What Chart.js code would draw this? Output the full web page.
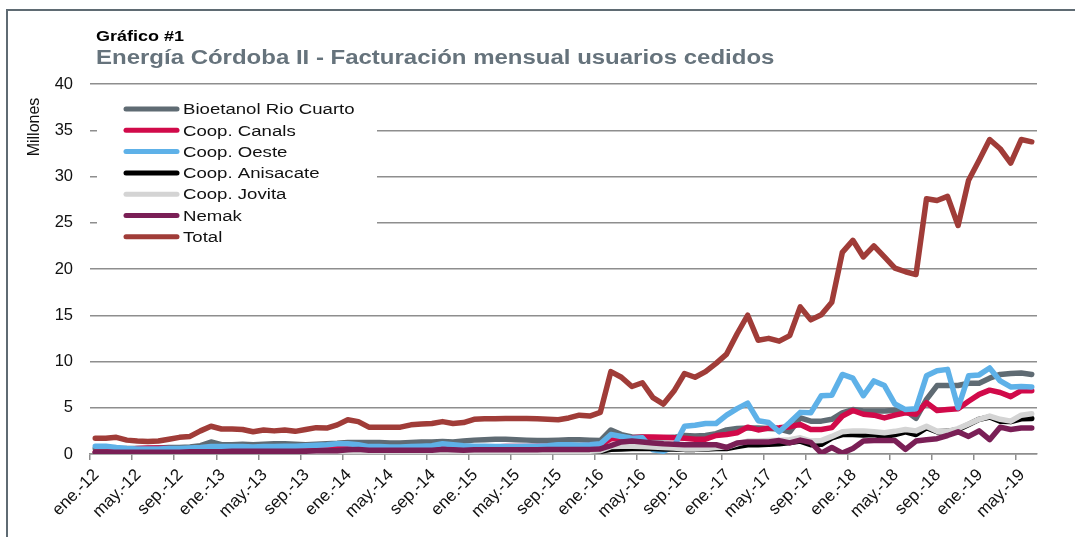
<!DOCTYPE html>
<html>
<head>
<meta charset="utf-8">
<script src="https://cdn.jsdelivr.net/npm/chart.js@4.4.1/dist/chart.umd.min.js"></script>
<style>
  html, body { margin: 0; padding: 0; background: #fff; }
  #wrap { width: 1075px; height: 537px; position: relative; }
</style>
</head>
<body>
<div id="wrap"><canvas id="chart" width="1075" height="537"></canvas></div>
<script>
// months ene.-12 .. jun.-19
const labels = [
  'ene.-12','feb.-12','mar.-12','abr.-12','may.-12','jun.-12','jul.-12','ago.-12','sep.-12','oct.-12','nov.-12','dic.-12',
  'ene.-13','feb.-13','mar.-13','abr.-13','may.-13','jun.-13','jul.-13','ago.-13','sep.-13','oct.-13','nov.-13','dic.-13',
  'ene.-14','feb.-14','mar.-14','abr.-14','may.-14','jun.-14','jul.-14','ago.-14','sep.-14','oct.-14','nov.-14','dic.-14',
  'ene.-15','feb.-15','mar.-15','abr.-15','may.-15','jun.-15','jul.-15','ago.-15','sep.-15','oct.-15','nov.-15','dic.-15',
  'ene.-16','feb.-16','mar.-16','abr.-16','may.-16','jun.-16','jul.-16','ago.-16','sep.-16','oct.-16','nov.-16','dic.-16',
  'ene.-17','feb.-17','mar.-17','abr.-17','may.-17','jun.-17','jul.-17','ago.-17','sep.-17','oct.-17','nov.-17','dic.-17',
  'ene.-18','feb.-18','mar.-18','abr.-18','may.-18','jun.-18','jul.-18','ago.-18','sep.-18','oct.-18','nov.-18','dic.-18',
  'ene.-19','feb.-19','mar.-19','abr.-19','may.-19','jun.-19'
];

// millones de $
const bioetanol = [
  0.6,0.6,0.6,0.6,0.6,0.6,0.65,0.7,0.7,0.75,0.9,1.3,
  1.0,1.0,1.05,1.0,1.05,1.1,1.1,1.05,1.0,1.05,1.1,1.15,
  1.25,1.25,1.25,1.25,1.2,1.2,1.25,1.3,1.3,1.35,1.3,1.4,
  1.5,1.55,1.6,1.6,1.55,1.5,1.45,1.45,1.5,1.55,1.55,1.5,
  1.45,2.6,2.1,1.85,1.8,1.75,1.75,1.8,2.0,1.95,2.0,2.2,
  2.6,2.75,2.8,2.8,2.75,2.7,2.4,3.9,3.55,3.55,3.75,4.45,
  4.8,4.65,4.65,4.65,4.7,4.7,3.85,5.9,7.4,7.4,7.4,7.65,
  7.65,8.2,8.6,8.7,8.75,8.6
];
const canals = [
  0.2,0.2,0.3,0.5,0.6,0.65,0.65,0.6,0.55,0.5,0.5,0.55,
  0.55,0.55,0.6,0.6,0.65,0.65,0.6,0.6,0.6,0.65,0.65,0.65,
  0.6,0.6,0.6,0.6,0.65,0.65,0.7,0.7,0.7,0.7,0.75,0.7,
  0.75,0.75,0.75,0.8,0.8,0.8,0.85,0.85,0.85,0.9,0.9,0.95,
  1.0,1.65,1.7,1.75,1.85,1.85,1.8,1.75,1.7,1.6,1.6,2.0,
  2.1,2.3,2.9,2.6,2.8,2.85,2.95,3.2,2.65,2.65,2.85,4.1,
  4.7,4.3,4.2,3.9,4.2,4.45,4.3,5.55,4.7,4.8,4.9,5.7,
  6.45,6.9,6.65,6.2,6.85,6.85
];
const oeste = [
  0.85,0.85,0.7,0.6,0.55,0.55,0.55,0.6,0.6,0.65,0.7,0.8,
  0.8,0.8,0.8,0.75,0.8,0.8,0.85,0.85,0.9,0.95,1.0,1.1,
  1.1,1.0,0.8,0.8,0.75,0.75,0.8,0.85,0.9,1.1,1.0,0.9,
  0.85,0.85,0.8,0.8,0.8,0.85,0.85,0.9,1.0,1.0,0.95,1.0,
  1.1,2.1,1.9,1.7,1.75,0.45,0.3,0.8,3.0,3.1,3.3,3.3,
  4.2,4.9,5.5,3.6,3.4,2.4,3.4,4.5,4.45,6.3,6.35,8.6,
  8.2,6.3,7.9,7.4,5.4,4.8,4.9,8.45,9.0,9.15,5.0,8.45,
  8.55,9.3,7.9,7.25,7.3,7.25
];
const anisacate = [
  0.05,0.05,0.05,0.05,0.05,0.05,0.05,0.1,0.1,0.1,0.1,0.1,
  0.1,0.1,0.1,0.1,0.1,0.1,0.1,0.1,0.1,0.1,0.1,0.1,
  0.1,0.1,0.15,0.15,0.15,0.15,0.15,0.15,0.15,0.15,0.15,0.15,
  0.15,0.15,0.15,0.15,0.15,0.15,0.2,0.2,0.2,0.2,0.25,0.25,
  0.3,0.5,0.55,0.6,0.6,0.6,0.55,0.55,0.5,0.5,0.55,0.6,
  0.6,0.8,1.0,1.0,1.05,1.1,1.25,1.4,1.0,1.05,1.75,2.1,
  2.1,2.05,2.1,1.9,2.1,2.4,2.1,2.85,2.4,2.45,2.65,3.2,
  3.75,4.0,3.55,3.5,3.8,3.85
];
const jovita = [
  0.05,0.05,0.05,0.05,0.05,0.05,0.05,0.05,0.05,0.05,0.05,0.05,
  0.05,0.05,0.1,0.1,0.1,0.1,0.1,0.1,0.1,0.1,0.1,0.1,
  0.1,0.1,0.1,0.1,0.1,0.1,0.15,0.15,0.15,0.15,0.15,0.15,
  0.15,0.15,0.15,0.15,0.2,0.2,0.2,0.2,0.25,0.25,0.3,0.3,
  0.35,0.8,0.85,0.85,0.8,0.75,0.7,0.65,0.55,0.55,0.6,0.7,
  0.75,1.1,1.4,1.4,1.45,1.5,1.55,1.75,1.4,1.45,1.9,2.4,
  2.5,2.5,2.4,2.3,2.45,2.65,2.5,3.0,2.45,2.45,2.75,3.25,
  3.75,4.1,3.75,3.55,4.2,4.35
];
const nemak = [
  0.2,0.2,0.2,0.2,0.2,0.2,0.2,0.2,0.2,0.25,0.25,0.25,
  0.25,0.3,0.3,0.3,0.3,0.3,0.3,0.3,0.3,0.35,0.35,0.35,
  0.45,0.5,0.4,0.4,0.4,0.4,0.4,0.4,0.4,0.5,0.45,0.4,
  0.45,0.45,0.45,0.45,0.45,0.45,0.45,0.5,0.5,0.5,0.5,0.5,
  0.55,0.9,1.3,1.4,1.3,1.2,1.1,1.05,1.0,1.0,1.0,1.0,
  0.7,1.2,1.3,1.3,1.3,1.45,1.2,1.5,1.25,0.1,0.7,0.1,
  0.6,1.4,1.45,1.45,1.45,0.5,1.4,1.55,1.65,2.0,2.4,1.9,
  2.5,1.55,2.9,2.65,2.8,2.8
];
const total = [
  1.7,1.7,1.8,1.5,1.4,1.35,1.4,1.6,1.8,1.9,2.5,3.0,
  2.7,2.7,2.65,2.4,2.6,2.5,2.6,2.45,2.65,2.85,2.8,3.15,
  3.7,3.5,2.9,2.9,2.9,2.9,3.15,3.25,3.3,3.5,3.3,3.4,
  3.75,3.8,3.8,3.85,3.85,3.85,3.8,3.75,3.7,3.9,4.2,4.1,
  4.5,8.9,8.3,7.3,7.7,6.1,5.4,6.8,8.7,8.3,8.9,9.8,
  10.8,13.0,15.0,12.3,12.5,12.2,12.8,15.9,14.5,15.05,16.4,21.8,
  23.1,21.3,22.5,21.3,20.1,19.7,19.4,27.6,27.4,27.85,24.7,29.6,
  31.75,34.0,33.0,31.45,34.0,33.75
];

const seriesNames = ['Bioetanol Rio Cuarto','Coop. Canals','Coop. Oeste','Coop. Anisacate','Coop. Jovita','Nemak','Total'];
const seriesData = [bioetanol, canals, oeste, anisacate, jovita, nemak, total];
const seriesColors = ['#5f6b73','#d10a4a','#5eb1e8','#000000','#d4d4d4','#7a1f56','#a03c38'];

const FONT = "'Liberation Sans', Arial, sans-serif";
const GRID = '#8e8e8e';

// the source picture is a bit stretched sideways, so text is widened to match
function wideText(c, txt, x, y, sx) {
  c.save();
  c.translate(x, y);
  c.scale(sx, 1);
  c.fillText(txt, 0, 0);
  c.restore();
}

// titulo, recuadro, leyenda y "Millones"
const decor = {
  id: 'decor',
  afterDraw(chart) {
    const c = chart.ctx;
    c.save();
    c.strokeStyle = '#5f6b73';
    c.lineWidth = 2;
    c.beginPath();
    c.moveTo(7, 537); c.lineTo(7, 10); c.lineTo(1075, 10);
    c.stroke();

    c.textBaseline = 'alphabetic';
    c.textAlign = 'left';
    c.fillStyle = '#000';
    c.font = 'bold 15px ' + FONT;
    wideText(c, 'Gráfico #1', 96, 41, 1.2);
    c.fillStyle = '#66737c';
    c.font = 'bold 19.5px ' + FONT;
    wideText(c, 'Energía Córdoba II - Facturación mensual usuarios cedidos', 96, 64, 1.23);

    c.save();
    c.translate(39, 127);
    c.rotate(-Math.PI / 2);
    c.textAlign = 'center';
    c.textBaseline = 'alphabetic';
    c.fillStyle = '#111';
    c.font = '16px ' + FONT;
    c.fillText('Millones', 0, 0);
    c.restore();

    // leyenda
    c.fillStyle = '#fff';
    c.fillRect(97, 96, 280, 153);
    c.font = '15.5px ' + FONT;
    c.textBaseline = 'middle';
    seriesNames.forEach((name, i) => {
      const y = 109 + i * 21.3;
      c.strokeStyle = seriesColors[i];
      c.lineWidth = 5;
      c.lineCap = 'round';
      c.beginPath();
      c.moveTo(126, y); c.lineTo(177, y);
      c.stroke();
      c.fillStyle = '#111';
      wideText(c, name, 183, y + 1, 1.2);
    });
    c.restore();
  }
};

const datasets = seriesNames.map((name, i) => ({
  label: name,
  data: seriesData[i],
  borderColor: seriesColors[i],
  backgroundColor: seriesColors[i],
  borderWidth: 5.5,
  pointRadius: 0,
  tension: 0,
  borderJoinStyle: 'round',
  borderCapStyle: 'round',
  order: seriesNames.length - i
}));

new Chart(document.getElementById('chart'), {
  type: 'line',
  data: { labels: labels, datasets: datasets },
  plugins: [decor],
  options: {
    responsive: false,
    animation: false,
    layout: { padding: { top: 84, right: 38, left: 0, bottom: 0 } },
    plugins: { legend: { display: false }, tooltip: { enabled: false } },
    scales: {
      x: {
        offset: true,
        grid: {
          offset: true,
          drawOnChartArea: false,
          tickLength: 6,
          lineWidth: 1.5,
          color: ctx => ctx.index % 4 === 0 ? GRID : 'rgba(0,0,0,0)'
        },
        border: { color: GRID, width: 1.5 },
        ticks: {
          autoSkip: false,
          minRotation: 45,
          maxRotation: 45,
          padding: 5,
          labelOffset: 1,
          color: '#111',
          font: { family: FONT, size: 17 },
          callback: function (v, i) { return i % 4 === 0 ? this.getLabelForValue(v) : ''; }
        },
        afterFit: s => { s.height = 83; }
      },
      y: {
        min: 0,
        max: 40,
        ticks: { stepSize: 5, padding: 17, color: '#111', font: { family: FONT, size: 16.5 } },
        grid: { drawTicks: false, color: GRID, lineWidth: 1.5 },
        border: { display: false },
        afterFit: s => { s.width = 90; }
      }
    }
  }
});
</script>
</body>
</html>
